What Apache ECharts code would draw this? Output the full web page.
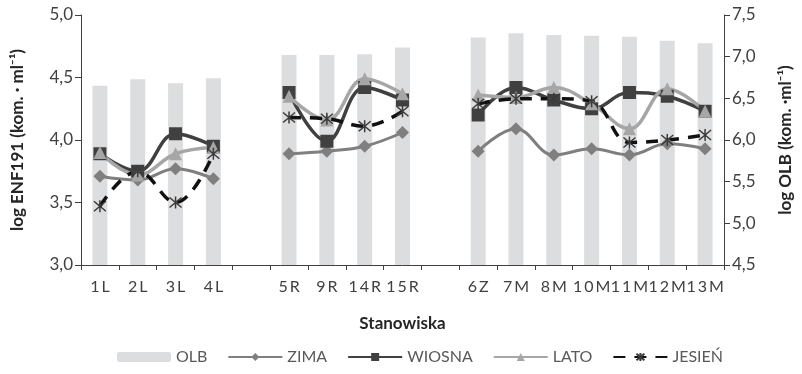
<!DOCTYPE html>
<html>
<head>
<meta charset="utf-8">
<script src="https://cdn.jsdelivr.net/npm/echarts@6/dist/echarts.min.js"></script>
<style>
  html, body { margin: 0; padding: 0; background: #fff; }
  #chart { width: 802px; height: 374px; }
</style>
</head>
<body>
<div id="chart"></div>
<script>
// Sampling sites; empty strings separate the L, R and Z/M groups
const categories = ['1L', '2L', '3L', '4L', '', '5R', '9R', '14R', '15R', '', '6Z', '7M', '8M', '10M', '11M', '12M', '13M'];

// log OLB (right axis)
const olb = [6.65, 6.73, 6.68, 6.74, null, 7.02, 7.02, 7.03, 7.11, null, 7.23, 7.28, 7.26, 7.25, 7.24, 7.19, 7.16];

// log ENF191 per season (left axis)
const zima   = [3.71, 3.68, 3.77, 3.69, null, 3.89, 3.91, 3.95, 4.06, null, 3.91, 4.09, 3.88, 3.93, 3.88, 3.97, 3.93];
const wiosna = [3.89, 3.75, 4.05, 3.95, null, 4.38, 3.99, 4.42, 4.32, null, 4.20, 4.42, 4.32, 4.25, 4.38, 4.35, 4.23];
const lato   = [3.90, 3.72, 3.89, 3.94, null, 4.35, 4.16, 4.49, 4.37, null, 4.36, 4.34, 4.42, 4.29, 4.09, 4.41, 4.23];
const jesien = [3.47, 3.75, 3.50, 3.89, null, 4.18, 4.17, 4.11, 4.23, null, 4.29, 4.33, 4.33, 4.31, 3.98, 4.00, 4.04];

const FONT = 'Lato';
const TEXT = '#404040';
const AXIS = '#404040';

const asterisk = 'path://M0,0L10,10M10,0L0,10M5,-1L5,11';

const chart = echarts.init(document.getElementById('chart'), null, { renderer: 'canvas' });

const lineSeries = (name, data, color, symbol, extra) => Object.assign({
  name: name,
  type: 'line',
  yAxisIndex: 0,
  data: data,
  smooth: 0.4,
  connectNulls: false,
  symbol: symbol,
  symbolSize: 13,
  showAllSymbol: true,
  lineStyle: { color: color, width: 3.5 },
  itemStyle: { color: color },
  z: 3
}, extra || {});

const commaFmt = v => v.toFixed(1).replace('.', ',');

chart.setOption({
  animation: false,
  textStyle: { fontFamily: FONT },
  grid: { left: 81, right: 72, top: 15, bottom: 109, containLabel: false },
  legend: {
    bottom: 4,
    left: 112,
    itemWidth: 54,
    itemHeight: 10,
    itemGap: 20,
    textStyle: { color: '#595959', fontSize: 16, fontFamily: FONT },
    data: ['OLB', 'ZIMA', 'WIOSNA', 'LATO', 'JESIEŃ']
  },
  xAxis: {
    type: 'category',
    data: categories,
    boundaryGap: true,
    name: 'Stanowiska',
    nameLocation: 'middle',
    nameGap: 50,
    nameTextStyle: { fontWeight: 'bold', fontSize: 17, color: '#262626', fontFamily: FONT },
    axisLine: { lineStyle: { color: AXIS, width: 1 } },
    axisTick: { show: true, alignWithLabel: false, length: 5, lineStyle: { color: AXIS } },
    axisLabel: {
      interval: 0,
      margin: 14,
      fontSize: 16,
      color: TEXT,
      fontFamily: FONT,
      formatter: v => v.split('').join('\u2009')
    }
  },
  yAxis: [
    {
      type: 'value',
      min: 3.0,
      max: 5.0,
      interval: 0.5,
      name: 'log ENF191 (kom. · ml⁻¹)',
      nameLocation: 'middle',
      nameGap: 55,
      nameTextStyle: { fontWeight: 'bold', fontSize: 17, color: '#262626', fontFamily: FONT },
      axisLine: { show: true, lineStyle: { color: AXIS } },
      axisTick: { show: true, length: 6, lineStyle: { color: AXIS } },
      splitLine: { show: false },
      axisLabel: { fontSize: 17, color: TEXT, margin: 8, fontFamily: FONT, formatter: commaFmt }
    },
    {
      type: 'value',
      min: 4.5,
      max: 7.5,
      interval: 0.5,
      position: 'right',
      name: 'log OLB (kom. ·ml⁻¹)',
      nameLocation: 'middle',
      nameGap: 53,
      nameRotate: 90,
      nameTextStyle: { fontWeight: 'bold', fontSize: 17, color: '#262626', fontFamily: FONT },
      axisLine: { show: true, lineStyle: { color: AXIS } },
      axisTick: { show: true, length: 6, lineStyle: { color: AXIS } },
      splitLine: { show: false },
      axisLabel: { fontSize: 17, color: TEXT, margin: 8, fontFamily: FONT, formatter: commaFmt }
    }
  ],
  series: [
    {
      name: 'OLB',
      type: 'bar',
      yAxisIndex: 1,
      data: olb,
      barWidth: 15,
      itemStyle: { color: '#dcdddf' },
      z: 1
    },
    lineSeries('ZIMA', zima, '#7f7f7f', 'diamond', { lineStyle: { color: '#7f7f7f', width: 3 } }),
    lineSeries('WIOSNA', wiosna, '#404040', 'rect'),
    lineSeries('LATO', lato, '#a6a6a6', 'triangle'),
    lineSeries('JESIEŃ', jesien, '#1a1a1a', asterisk, {
      lineStyle: { color: '#111', width: 3.5, type: [12, 9] },
      itemStyle: { color: '#3a3a3a', borderColor: '#3a3a3a', borderWidth: 1.5 },
      symbolSize: 12
    })
  ]
});
</script>
</body>
</html>
